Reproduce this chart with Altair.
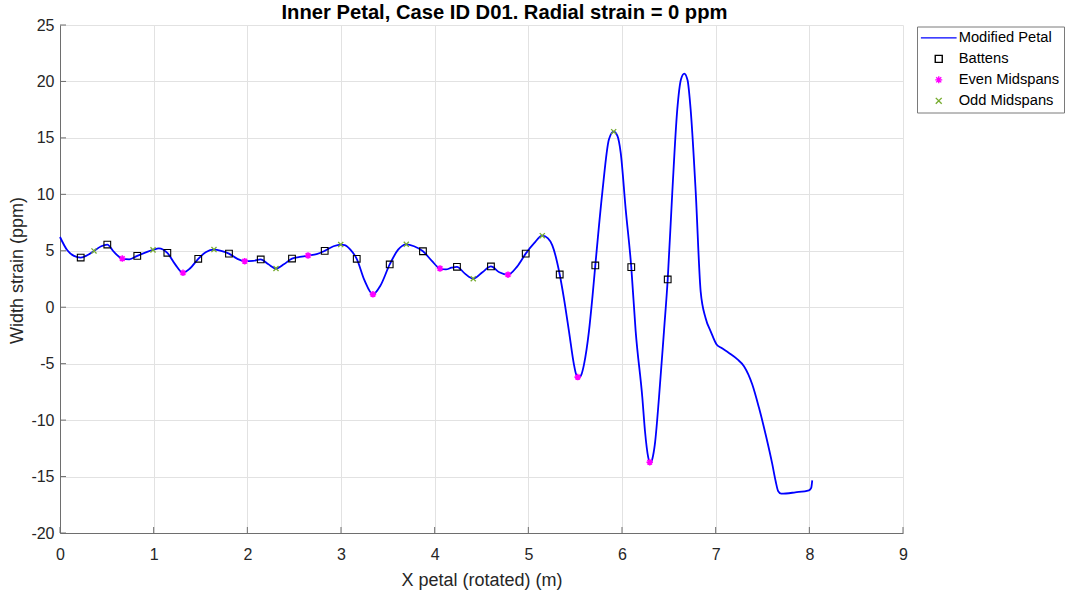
import altair as alt
import pandas as pd

# ---- data ----
line_x = [0.000, 0.078, 0.149, 0.221, 0.290, 0.363, 0.440, 0.505, 0.576, 0.665,
          0.740, 0.825, 0.993, 1.055, 1.146, 1.230, 1.313, 1.390, 1.476, 1.560,
          1.644, 1.720, 1.804, 1.890, 1.972, 2.060, 2.143, 2.225, 2.306, 2.390,
          2.477, 2.560, 2.648, 2.740, 2.826, 2.920, 2.997, 3.040, 3.100, 3.168,
          3.250, 3.341, 3.420, 3.520, 3.610, 3.697, 3.780, 3.875, 3.970, 4.057,
          4.120, 4.180, 4.238, 4.320, 4.412, 4.510, 4.601, 4.690, 4.783, 4.880,
          4.972, 5.060, 5.149, 5.210, 5.256, 5.335, 5.380, 5.434, 5.487, 5.510,
          5.527, 5.545, 5.565, 5.594, 5.647, 5.683, 5.715, 5.790, 5.861, 5.911,
          5.950, 5.986, 6.039, 6.099, 6.146, 6.217, 6.245, 6.280, 6.296, 6.310,
          6.325, 6.350, 6.395, 6.448, 6.488, 6.537, 6.590, 6.630, 6.665, 6.700,
          6.733, 6.787, 6.840, 6.893, 6.950, 7.010, 7.060, 7.142, 7.230, 7.302,
          7.391, 7.462, 7.540, 7.604, 7.640, 7.668, 7.700, 7.850, 7.996, 8.020,
          8.031]
line_y = [6.22, 5.04, 4.55, 4.40, 4.60, 4.99, 5.40, 5.55, 4.90, 4.31,
          4.24, 4.55, 5.08, 5.22, 4.82, 3.80, 3.05, 3.45, 4.29, 4.90,
          5.11, 5.00, 4.75, 4.30, 4.08, 4.10, 4.23, 3.80, 3.43, 3.80,
          4.31, 4.45, 4.58, 4.70, 4.99, 5.40, 5.55, 5.50, 5.10, 4.29,
          2.40, 1.14, 1.90, 3.79, 5.10, 5.57, 5.40, 4.96, 4.10, 3.43,
          3.35, 3.50, 3.58, 3.00, 2.53, 3.10, 3.61, 3.10, 2.88, 3.60,
          4.75, 5.65, 6.34, 6.10, 5.48, 2.90, 0.79, -2.14, -5.08, -5.95,
          -6.19, -6.25, -6.00, -5.08, -2.14, 0.79, 3.70, 10.18, 14.88, 15.55,
          15.20, 13.70, 8.71, 3.55, -2.14, -8.00, -10.94, -13.30, -13.73, -13.75,
          -13.40, -12.20, -8.00, -2.14, 2.46, 10.18, 17.50, 20.20, 20.70, 20.10,
          17.50, 10.20, 1.38, -0.97, -2.20, -3.30, -3.60, -4.05, -4.60, -5.22,
          -6.84, -8.89, -11.50, -13.88, -15.40, -16.30, -16.52, -16.40, -16.22, -16.00,
          -15.34]

batten_x = [0.221, 0.505, 0.825, 1.146, 1.476, 1.804, 2.143, 2.477, 2.826, 3.168,
            3.520, 3.875, 4.238, 4.601, 4.972, 5.335, 5.715, 6.099, 6.488]
batten_y = [4.40, 5.55, 4.55, 4.82, 4.29, 4.75, 4.23, 4.31, 4.99, 4.29,
            3.79, 4.96, 3.58, 3.61, 4.75, 2.90, 3.70, 3.55, 2.46]

even_x = [0.665, 1.313, 1.972, 2.648, 3.341, 4.057, 4.783, 5.527, 6.296]
even_y = [4.31, 3.05, 4.08, 4.58, 1.14, 3.43, 2.88, -6.19, -13.73]

odd_x = [0.363, 0.993, 1.644, 2.306, 2.997, 3.697, 4.412, 5.149, 5.911]
odd_y = [4.99, 5.08, 5.11, 3.43, 5.55, 5.57, 2.53, 6.34, 15.55]

series_names = ["Modified Petal", "Battens", "Even Midspans", "Odd Midspans"]
x_ticks = list(range(0, 10))
y_ticks = list(range(-20, 30, 5))

# ---- styling ----
FONT = "Liberation Sans"
AXIS_COLOR = "#6e6e6e"
colors = ["#0000ff", "#000000", "#ff00ff", "#77ac30"]
line_sym = "M-5.1,0L5.1,0"
asterisk = "M-1,0L1,0M0,-1L0,1M-0.72,-0.72L0.72,0.72M-0.72,0.72L0.72,-0.72"
xmark = "M-0.85,-0.85L0.85,0.85M-0.85,0.85L0.85,-0.85"
shapes = [line_sym, "square", asterisk, xmark]
W, H = 843, 508

line_df = pd.DataFrame({"x": line_x, "y": line_y, "series": series_names[0]})
bat_df = pd.DataFrame({"x": batten_x, "y": batten_y, "series": series_names[1]})
even_df = pd.DataFrame({"x": even_x, "y": even_y, "series": series_names[2]})
odd_df = pd.DataFrame({"x": odd_x, "y": odd_y, "series": series_names[3]})
xt_df = pd.DataFrame({"x": x_ticks})
yt_df = pd.DataFrame({"y": y_ticks})

legend = alt.Legend(
    title=None, orient="none", legendX=857, legendY=1.5,
    padding=4, strokeColor="#7a7a7a", fillColor="white",
    symbolSize=49, symbolStrokeWidth=1.4, symbolOffset=10.4,
    labelOffset=12.6, labelFontSize=14.7, labelFont=FONT, labelColor="#000000",
    rowPadding=5, labelLimit=300,
)
color_scale = alt.Scale(domain=series_names, range=colors)
shape_scale = alt.Scale(domain=series_names, range=shapes)

x_enc = alt.X("x:Q", scale=alt.Scale(domain=[0, 9], nice=False),
              axis=alt.Axis(values=x_ticks, title="X petal (rotated) (m)", labelFlush=False,
                            labelExpr="'' + datum.value",
                            ticks=False, labelPadding=13, titleY=52, titleBaseline="alphabetic"))
y_enc = alt.Y("y:Q", scale=alt.Scale(domain=[-20, 25], nice=False),
              axis=alt.Axis(values=y_ticks, title="Width strain (ppm)", labelFlush=False,
                            labelExpr="'' + datum.value",
                            ticks=False, labelPadding=6, titleX=-38, titleY=245,
                            titleBaseline="alphabetic", titleAlign="center", titleAngle=-90))

color_enc = alt.Color("series:N", scale=color_scale, legend=legend)
shape_enc = alt.Shape("series:N", scale=shape_scale, legend=legend)

line = alt.Chart(line_df).mark_line(strokeWidth=1.8, interpolate="monotone").encode(
    x=x_enc, y=y_enc, color=color_enc)

bat = alt.Chart(bat_df).mark_point(filled=False, size=45, strokeWidth=1.1, opacity=1).encode(
    x="x:Q", y="y:Q", color=color_enc, shape=shape_enc)
even = alt.Chart(even_df).mark_point(filled=False, size=42, strokeWidth=1.6, opacity=1).encode(
    x="x:Q", y="y:Q", color=color_enc, shape=shape_enc)
odd = alt.Chart(odd_df).mark_point(filled=False, size=36, strokeWidth=1.3, opacity=1).encode(
    x="x:Q", y="y:Q", color=color_enc, shape=shape_enc)

# inward axis ticks (MATLAB style)
xticks = alt.Chart(xt_df).mark_rule(color=AXIS_COLOR, strokeWidth=1).encode(
    x="x:Q", y=alt.value(H), y2=alt.value(H - 6))
yticks = alt.Chart(yt_df).mark_rule(color=AXIS_COLOR, strokeWidth=1).encode(
    y="y:Q", x=alt.value(0), x2=alt.value(6))

chart = alt.layer(xticks, yticks, line, bat, even, odd).properties(
    width=W, height=H,
    background="white",
    title=alt.TitleParams(
        "Inner Petal, Case ID D01. Radial strain = 0 ppm",
        font=FONT, fontSize=20.2, fontWeight="bold", color="#000000",
        anchor="middle", dx=23, offset=0, dy=22.5, baseline="alphabetic"),
    autosize=alt.AutoSizeParams(type="none"),
    padding={"left": 60, "top": 25, "right": 165, "bottom": 59},
).configure_view(strokeWidth=0).configure_axis(
    labelFont=FONT, titleFont=FONT, labelFontSize=16, titleFontSize=18,
    titleFontWeight="normal", labelColor="#262626", titleColor="#262626",
    gridColor="#e2e2e2", gridWidth=1, domainColor=AXIS_COLOR, domainWidth=1,
)

chart.save("out.html", embed_options={"renderer": "svg", "actions": False})
